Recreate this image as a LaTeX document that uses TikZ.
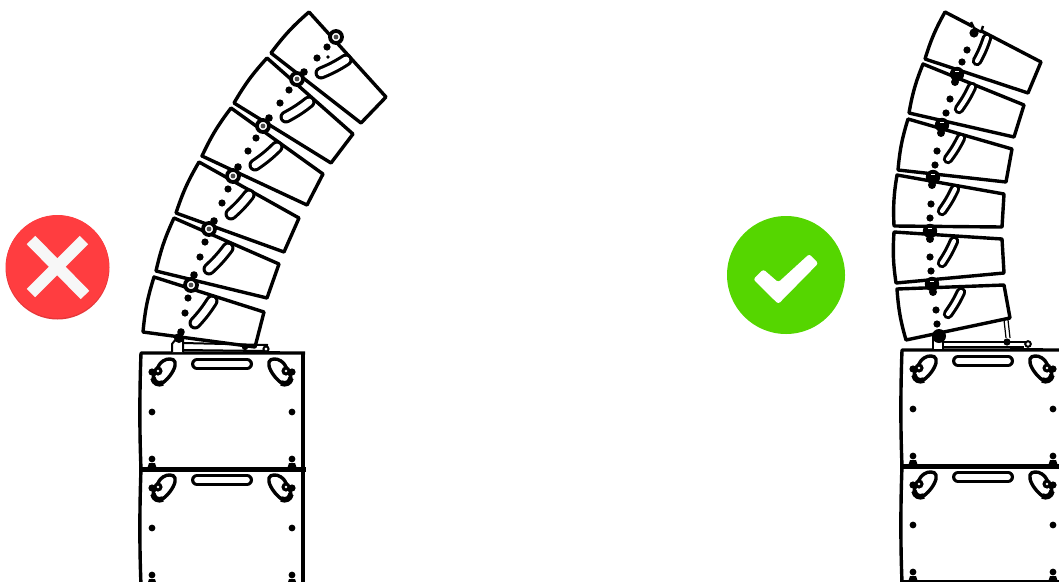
\documentclass[tikz,border=0pt]{standalone}
\usetikzlibrary{calc}
\definecolor{nored}{HTML}{FF3D40}
\definecolor{nogreen}{HTML}{55D600}

\newcommand{\cabinet}[4]{\draw[cabedge] #1 -- #2 -- #3 -- #4 to[bend left=6] cycle;}
\newcommand{\slotmark}[3]{
    \draw[slotout, line width=#3pt] #1 to[bend right=5] #2;
    \draw[slotin, line width=#3pt-6.2pt] #1 to[bend right=5] #2;
}
% one lower cabinet, drawn at the coordinates of the left stack
\newcommand{\baseunit}{
    \draw[cabedge] (305,0) -- (141,0) .. controls (139.5,40) and (139.5,80) .. (141,116);
    \draw[cabedge, line width=4.4pt] (303,0) -- (303,116);
    \draw[cabedge, line width=5pt] (139,116) -- (306,116);
    \draw[slotout, line width=12pt] (197,11) -- (247,11);
    \draw[slotin, line width=5.6pt] (197,11) -- (247,11);
    \foreach \mirror/\off in {1/0, -1/444} {
        \begin{scope}[xshift=\off pt, xscale=\mirror]
            \draw[cabedge, fill=white] plot[smooth cycle, tension=0.7] coordinates {(170,6) (163,8) (158,14) (153,26) (158,31) (165,28) (173,18) (175,9)};
            \draw[cabedge, line width=5.6pt] (153,25) .. controls (154,30) and (158,32) .. (163,30);
            \fill (152,19) circle (3.6);
            \fill (158,18) circle (4.6);
            \fill[white] (158,18) circle (1.3);
            \fill (152,59) circle (3.4);
            \fill (152,106) circle (3.4);
            \fill (147,116) -- (149,110) -- (155,110) -- (157,116) -- cycle;
        \end{scope}
    }
}

\begin{document}
\begin{tikzpicture}[
        x=1pt, y=-1pt,
        cabedge/.style={draw=black, line width=3.4pt, line join=round},
        slotout/.style={draw=black, line cap=round},
        slotin/.style={draw=white, line cap=round},
        badge/.style={circle, inner sep=0pt},
        crossarm/.style={draw=white!97!black, line width=12pt},
        thinline/.style={draw=black, line width=2pt},
        ringhinge/.style={draw=black, line width=3.8pt, fill=white},
        blobhinge/.style={fill=black}
    ]
        \useasboundingbox (0,0) rectangle (1059,581);
        \clip (0,0) rectangle (1059,581);

        % badges
        \node[badge, fill=nored!90!black, minimum size=104pt] (nobadgeshade) at (57.5,267.5) {};
        \node[badge, fill=nored, minimum size=103pt] (nobadge) at (57.5,266.5) {};
        \draw[crossarm] (31,240) -- (85,295);
        \draw[crossarm] (84,240) -- (31,293);
        \node[badge, fill=nogreen, minimum size=118pt] (yesbadge) at (786,275) {};
        \fill[white, rounded corners=2.5pt] (763.3,269.3) -- (778.3,282.3) -- (809.3,254) -- (818.3,263.3) -- (778.3,304) -- (753.3,279.3) -- cycle;

        % left stack
        \begin{scope}[shift={(0,353)}]
            \baseunit
        \end{scope}
        \begin{scope}[shift={(0,469)}]
            \baseunit
        \end{scope}
        \cabinet{(309,12)}{(386,97)}{(361,123)}{(271,53)}
        \cabinet{(267,58)}{(353,134)}{(331,163)}{(234,103)}
        \cabinet{(231,108)}{(323,174)}{(307,205)}{(202,156)}
        \cabinet{(199,162)}{(299,218)}{(284,252)}{(176,213)}
        \cabinet{(174,218)}{(279,264)}{(267,298)}{(156,271)}
        \cabinet{(154,277)}{(264,312)}{(255,347)}{(143,332)}
        \slotmark{(321,73)}{(346,60)}{13}
        \slotmark{(286,117)}{(309,102)}{13}
        \slotmark{(255,165)}{(277,147)}{13}
        \slotmark{(231,214)}{(249,195)}{13}
        \slotmark{(209,269)}{(228,248)}{13}
        \slotmark{(195,323)}{(212,301)}{13}
        \foreach \p in {(327,47),(317,58),(289,90),(280,103),(256,138),(248,151),(228,189),(222,203),(205,242),(200,257),(188,298),(185,313)}
            \fill \p circle (3.6);
        \fill (328,57) circle (1.8);
        \foreach \p in {(304,72),(269,118),(238,167),(214,221),(194,275),(181,332)}
            \fill \p circle (3.8);
        \foreach \p in {(336,37),(297,79),(263,126),(233,176),(209,229),(191,285)}
            \draw[ringhinge] \p circle (6);
        \foreach \p in {(336,37),(297,79),(263,126),(233,176),(209,229),(191,285)}
            \fill[black!70] \p circle (2.4);
        % left bracket
        \draw[thinline, fill=white] (172,352) -- (172,344) -- (176,339) -- (183,339) -- (183,352);
        \fill (179,338) circle (5);
        \draw[thinline] (183,343) -- (268,345);
        \draw[thinline] (183,350) -- (264,351);
        \fill (245,347) circle (3.2);
        \draw[thinline, fill=white] (266,349) circle (2.6);
        \draw[thinline, line width=1.4pt] (250,352) -- (280,352);

        % right stack
        \begin{scope}[shift={(761,350)}]
            \baseunit
        \end{scope}
        \begin{scope}[shift={(761,466)}]
            \baseunit
        \end{scope}
        \cabinet{(945,12)}{(1041,62)}{(1028,93)}{(925,59)}
        \fill[white] (973,21) -- (983,26) -- (981,31) -- (972,28) -- cycle;
        \draw[cabedge, line width=2.4pt] (971,22) -- (974,28) -- (981,32) -- (983,26);
        \cabinet{(923,64)}{(1024,105)}{(1014,137)}{(909,113)}
        \cabinet{(908,119)}{(1012,149)}{(1006,182)}{(898,170)}
        \cabinet{(897,175)}{(1004,194)}{(1002,227)}{(894,226)}
        \cabinet{(894,232)}{(1002,239)}{(1004,273)}{(896,283)}
        \cabinet{(897,289)}{(1004,285)}{(1010,318)}{(906,340)}
        \slotmark{(977,61)}{(987,38)}{10.4}
        \slotmark{(959,109)}{(972,87)}{10.4}
        \slotmark{(948,159)}{(961,138)}{10.4}
        \slotmark{(942,211)}{(955,189)}{10.4}
        \slotmark{(942,263)}{(954,241)}{10.4}
        \slotmark{(948,314)}{(961,292)}{10.4}
        \foreach \p in {(967,50),(962,62),(950,99),(946,113),(937,151),(935,165),(931,204),(930,218),(930,257),(931,271),(936,310),(937,324)}
            \fill \p circle (3.6);
        \foreach \p in {(957,74),(942,125),(933,177),(930,231),(932,284)}
            \fill[blobhinge] \p circle (7.2);
        \fill[blobhinge] (974,33) circle (4.6);
        \foreach \p in {(955,82),(941,133),(932,185),(930,239),(933,292)}
            \fill[blobhinge] \p circle (4);
        \foreach \p in {(957,71),(942,122),(933,174),(930,228),(932,281)}
            \draw[white, line width=0.6pt] \p ++(-2,0) -- ++(4,0);
        % right bracket
        \draw[thinline, fill=white] (933,349) -- (933,338) -- (943,338) -- (943,349);
        \fill (939,336) circle (7);
        \draw[thinline] (943,342) -- (1027,342);
        \draw[thinline] (943,347) -- (1024,347);
        \draw[thinline, line width=1.2pt] (1004,320) -- (1006,338);
        \draw[thinline, line width=1.2pt] (1008,320) -- (1010,338);
        \fill (1007,342) circle (3.6);
        \draw[thinline, fill=white] (1028,344) circle (2.8);
        \draw[thinline, line width=1.4pt] (1010,349) -- (1043,349);
    \end{tikzpicture}
\end{document}
